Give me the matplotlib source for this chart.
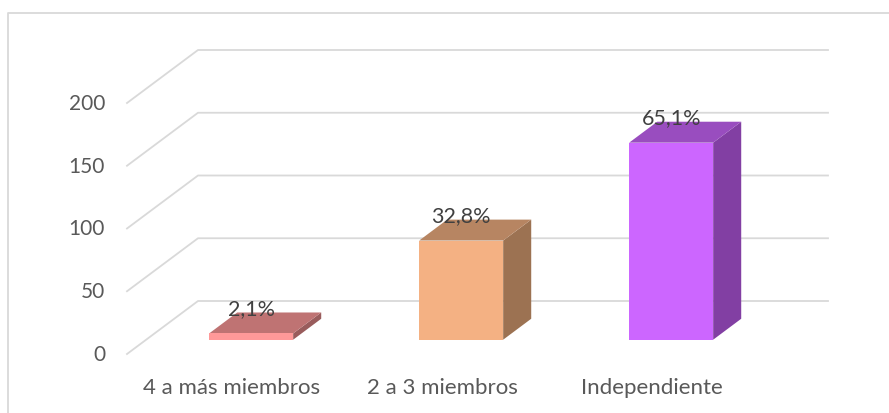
import matplotlib
matplotlib.use("Agg")
import matplotlib.pyplot as plt
from matplotlib.lines import Line2D
from matplotlib.patches import Polygon

plt.rcParams['font.family'] = ['Lato', 'DejaVu Sans']

#----- Data ---------
categorias = ['4 a más miembros', '2 a 3 miembros', 'Independiente']
valores = [5, 79, 157]
etiquetas = ['2,1%', '32,8%', '65,1%']
ticks = [0, 50, 100, 150, 200]

color_frente = ['#FF9999', '#F4B183', '#CC66FF']
color_arriba = ['#BF7373', '#B78562', '#994DBF']
color_lado = ['#995C5C', '#9C7252', '#823FA3']

W, H = 889, 414
gris = '#D9D9D9'

fig = plt.figure(figsize=(W / 100, H / 100), dpi=100)
fig.patch.set_facecolor('white')

# marco del grafico: solo se ve arriba y a la izquierda
fig.add_artist(Line2D([8 / W, 8 / W, 1], [0, 1 - 14 / H, 1 - 14 / H], transform=fig.transFigure,
                      color=gris, linewidth=1.3))

# plano frontal: x en categorias, y en valores
ax = fig.add_axes([127 / W, 1 - 355 / H, 630 / W, 251 / H])
ax.set_xlim(-0.5, 2.5)
ax.set_ylim(0, 200)
ax.axis('off')

# profundidad completa en unidades de datos
DX = 71 / 210
DY = 53 / 1.255


def proy(x, v, d):
    return (x + d * DX, v + d * DY)


#----- Rejilla --------
for t in ticks:
    ax.plot([proy(-0.5, t, 0)[0], proy(-0.5, t, 1)[0], proy(2.5, t, 1)[0]],
            [proy(-0.5, t, 0)[1], proy(-0.5, t, 1)[1], proy(2.5, t, 1)[1]],
            color=gris, lw=1.3, clip_on=False, zorder=1)
    ax.text(-0.5 - 22 / 210, t, str(t), ha='right', va='center', fontsize=15,
            color='#595959', clip_on=False)

#----- Barras --------
ancho = 0.2
d0, d1 = 0.27, 0.665
for i, v in enumerate(valores):
    x0, x1 = i - ancho, i + ancho
    frente = [proy(x0, 0, d0), proy(x1, 0, d0), proy(x1, v, d0), proy(x0, v, d0)]
    arriba = [proy(x0, v, d0), proy(x1, v, d0), proy(x1, v, d1), proy(x0, v, d1)]
    lado = [proy(x1, 0, d0), proy(x1, 0, d1), proy(x1, v, d1), proy(x1, v, d0)]
    ax.add_patch(Polygon(lado, facecolor=color_lado[i], edgecolor='none', clip_on=False, zorder=2))
    ax.add_patch(Polygon(arriba, facecolor=color_arriba[i], edgecolor='none', clip_on=False, zorder=2))
    ax.add_patch(Polygon(frente, facecolor=color_frente[i], edgecolor='none', clip_on=False, zorder=3))
    cx, cy = proy(i, v, d0)
    ax.text(cx, cy + 20.5, etiquetas[i], ha='center', va='center', fontsize=15.5,
            color='#404040', clip_on=False, zorder=4)
    ax.text(i, -26.5, categorias[i], ha='center', va='center', fontsize=16,
            color='#595959', clip_on=False)

fig.savefig('out.png', dpi=100)
